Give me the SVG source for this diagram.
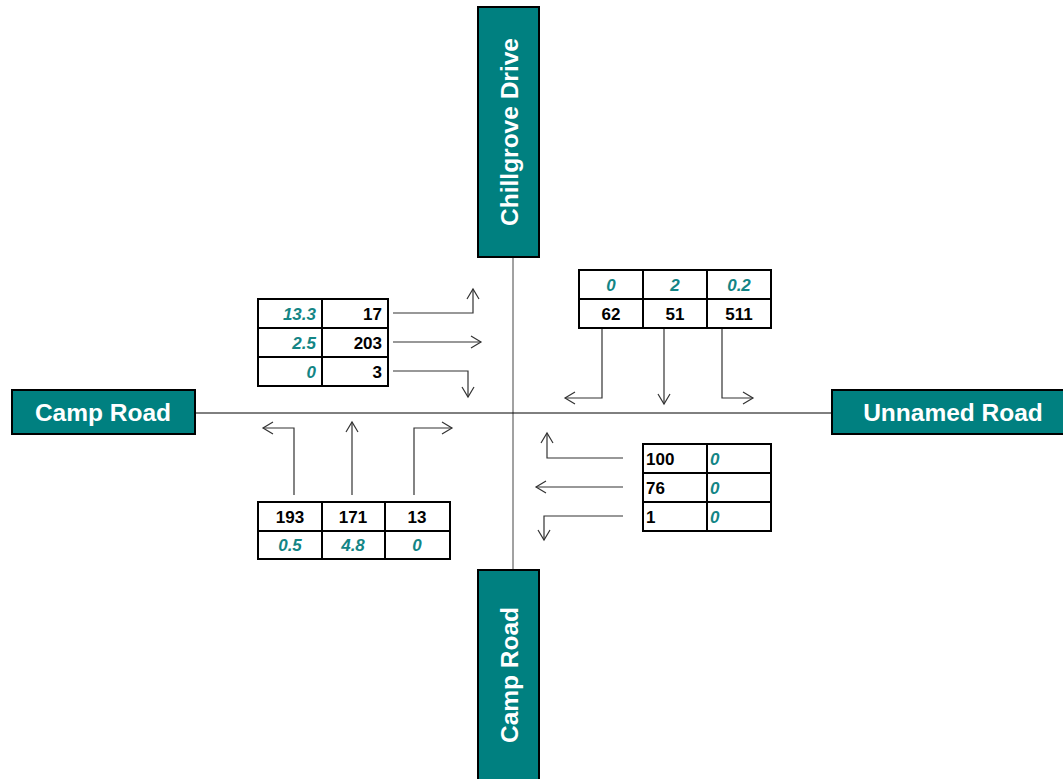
<svg xmlns="http://www.w3.org/2000/svg" width="1063" height="779" viewBox="0 0 1063 779">
<style>
.road{fill:#008080;stroke:#000;stroke-width:2}
.rl{font-family:"Liberation Sans",Arial,sans-serif;font-weight:bold;font-size:24.5px;fill:#fff;text-anchor:middle}
.cell{fill:#fff;stroke:#000;stroke-width:2}
.n{font-family:"Liberation Sans",Arial,sans-serif;font-weight:bold;font-size:17px;fill:#000}
.p{font-family:"Liberation Sans",Arial,sans-serif;font-weight:bold;font-style:italic;font-size:17px;fill:#138585}
.r{text-anchor:end}
.c{text-anchor:middle}
.ar{fill:none;stroke:#333;stroke-width:1.2}
.ah{fill:none;stroke:#333;stroke-width:1.2}
</style>
<rect width="1063" height="779" fill="#fff"/>
<g id="connectors">
<line x1="513" y1="257" x2="513" y2="570" stroke="#444" stroke-width="1"/>
<line x1="195" y1="413" x2="832" y2="413" stroke="#000" stroke-width="1"/>
<polyline class="ar" points="393,313 473,313 473,289"/>
<polyline class="ah" points="467,299 473,289 479,299"/>
<polyline class="ar" points="393,342 481,342"/>
<polyline class="ah" points="471,336 481,342 471,348"/>
<polyline class="ar" points="393,371 468,371 468,397"/>
<polyline class="ah" points="462,387 468,397 474,387"/>
<polyline class="ar" points="602,329 602,398 565,398"/>
<polyline class="ah" points="575,392 565,398 575,404"/>
<polyline class="ar" points="664,329 664,404"/>
<polyline class="ah" points="658,394 664,404 670,394"/>
<polyline class="ar" points="722,329 722,398 753,398"/>
<polyline class="ah" points="743,392 753,398 743,404"/>
<polyline class="ar" points="294,495 294,428 263,428"/>
<polyline class="ah" points="273,422 263,428 273,434"/>
<polyline class="ar" points="352,495 352,422"/>
<polyline class="ah" points="346,432 352,422 358,432"/>
<polyline class="ar" points="414,495 414,428 452,428"/>
<polyline class="ah" points="442,422 452,428 442,434"/>
<polyline class="ar" points="623,458 547,458 547,433"/>
<polyline class="ah" points="541,443 547,433 553,443"/>
<polyline class="ar" points="623,487 536,487"/>
<polyline class="ah" points="546,481 536,487 546,493"/>
<polyline class="ar" points="623,516 544,516 544,540"/>
<polyline class="ah" points="538,530 544,540 550,530"/>
</g>
<g id="road-north">
<rect class="road" x="478" y="7" width="61" height="250"/>
<text class="rl" transform="translate(509,132) rotate(-90)" y="9">Chillgrove Drive</text>
</g>
<g id="road-south">
<rect class="road" x="478" y="570" width="61" height="215"/>
<text class="rl" transform="translate(509,675) rotate(-90)" y="9">Camp Road</text>
</g>
<g id="road-west">
<rect class="road" x="12" y="390" width="183" height="44"/>
<text class="rl" x="103" y="421">Camp Road</text>
</g>
<g id="road-east">
<rect class="road" x="832" y="390" width="240" height="44"/>
<text class="rl" x="953" y="421">Unnamed Road</text>
</g>
<g id="table-west-approach">
<rect class="cell" x="258" y="299" width="64" height="29"/>
<rect class="cell" x="322" y="299" width="66" height="29"/>
<rect class="cell" x="258" y="328" width="64" height="29"/>
<rect class="cell" x="322" y="328" width="66" height="29"/>
<rect class="cell" x="258" y="357" width="64" height="29"/>
<rect class="cell" x="322" y="357" width="66" height="29"/>
<text class="p r" x="316" y="320">13.3</text>
<text class="n r" x="382" y="320">17</text>
<text class="p r" x="316" y="349">2.5</text>
<text class="n r" x="382" y="349">203</text>
<text class="p r" x="316" y="378">0</text>
<text class="n r" x="382" y="378">3</text>
</g>
<g id="table-north-approach">
<rect class="cell" x="579" y="270" width="64" height="29"/>
<rect class="cell" x="643" y="270" width="64" height="29"/>
<rect class="cell" x="707" y="270" width="64" height="29"/>
<rect class="cell" x="579" y="299" width="64" height="29"/>
<rect class="cell" x="643" y="299" width="64" height="29"/>
<rect class="cell" x="707" y="299" width="64" height="29"/>
<text class="p c" x="611" y="291">0</text>
<text class="p c" x="675" y="291">2</text>
<text class="p c" x="739" y="291">0.2</text>
<text class="n c" x="611" y="320">62</text>
<text class="n c" x="675" y="320">51</text>
<text class="n c" x="739" y="320">511</text>
</g>
<g id="table-south-approach">
<rect class="cell" x="258" y="502" width="64" height="29"/>
<rect class="cell" x="322" y="502" width="63" height="29"/>
<rect class="cell" x="385" y="502" width="65" height="29"/>
<rect class="cell" x="258" y="531" width="64" height="28"/>
<rect class="cell" x="322" y="531" width="63" height="28"/>
<rect class="cell" x="385" y="531" width="65" height="28"/>
<text class="n c" x="290" y="523">193</text>
<text class="n c" x="353" y="523">171</text>
<text class="n c" x="417" y="523">13</text>
<text class="p c" x="290" y="551">0.5</text>
<text class="p c" x="353" y="551">4.8</text>
<text class="p c" x="417" y="551">0</text>
</g>
<g id="table-east-approach">
<rect class="cell" x="643" y="444" width="64" height="29"/>
<rect class="cell" x="707" y="444" width="64" height="29"/>
<rect class="cell" x="643" y="473" width="64" height="29"/>
<rect class="cell" x="707" y="473" width="64" height="29"/>
<rect class="cell" x="643" y="502" width="64" height="29"/>
<rect class="cell" x="707" y="502" width="64" height="29"/>
<text class="n" x="646" y="465">100</text>
<text class="p" x="710" y="465">0</text>
<text class="n" x="646" y="494">76</text>
<text class="p" x="710" y="494">0</text>
<text class="n" x="646" y="523">1</text>
<text class="p" x="710" y="523">0</text>
</g>
</svg>
